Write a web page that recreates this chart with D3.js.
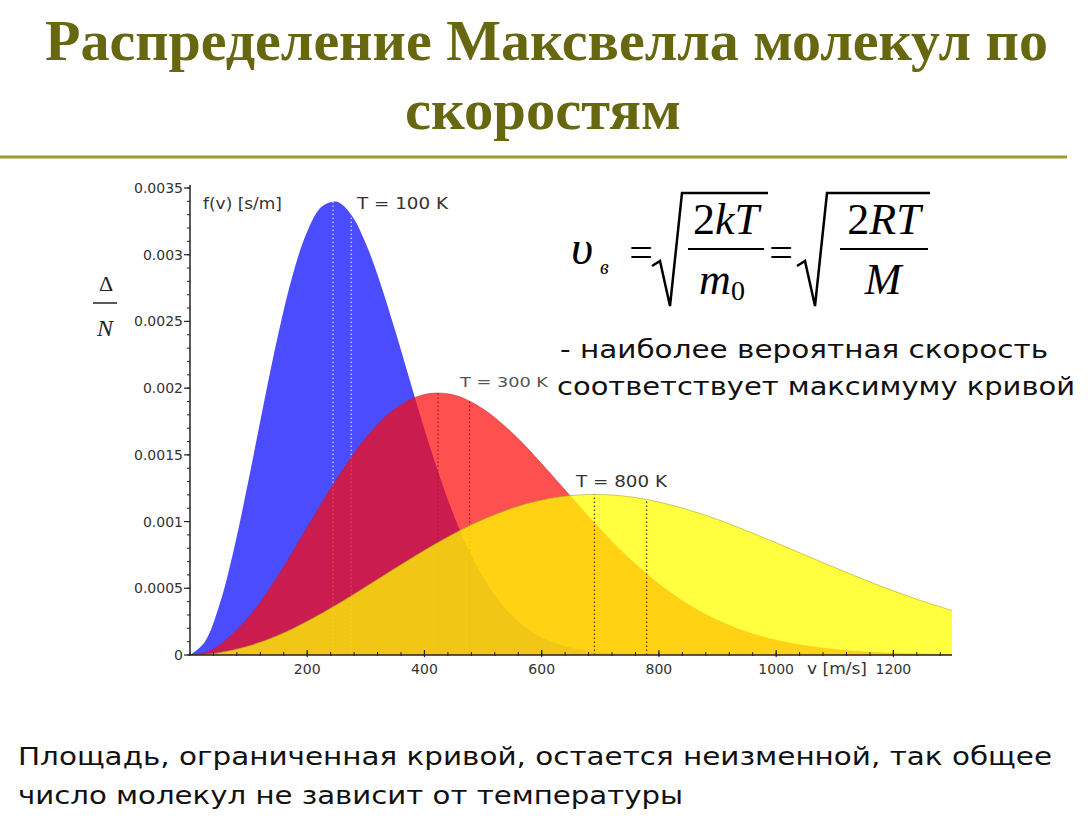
<!DOCTYPE html>
<html><head><meta charset="utf-8">
<script src="https://cdn.jsdelivr.net/npm/d3@7"></script>
<style>
html,body{margin:0;padding:0;background:#fff;}
svg{display:block;}
</style>
</head><body>
<svg id="chart" width="1090" height="840"></svg>
<script>
// ---------- data ----------
const speeds100 = [0,25,50,75,100,125,150,175,200,225,250,275,300,325,350,375,400,425,450,475,500,525,550,575,600,625,650,675,700,725,750,775,800,825,850];
const f100 = [0,0.0000961,0.000372,0.000795,0.001313,0.001867,0.002395,0.002845,0.003174,0.003361,0.003398,0.003299,0.003083,0.002783,0.002432,0.002059,0.001692,0.001351,0.001048,0.000792,0.000583,0.000418,0.000292,0.000199,0.000132,0.0000858,0.000054,0.0000336,0.000020,0.000012,0.000007,0.0000039,0.000002,0.000001,0];
const speeds = [0,25,50,100,150,200,250,300,350,400,450,500,550,600,650,700,750,800,850,900,950,1000,1050,1100,1150,1200,1250,1300];
const f300 = [0,0.0000186,0.0000737,0.000283,0.000593,0.000956,0.001317,0.001626,0.001845,0.001953,0.001949,0.001844,0.001663,0.001434,0.001186,0.000943,0.000721,0.000532,0.000378,0.000260,0.000172,0.000111,0.000069,0.000041,0.000024,0.000014,0.000007,0.000004];
const f800 = [0,0.0000043,0.0000171,0.0000672,0.000147,0.000253,0.000376,0.000512,0.000650,0.000785,0.000909,0.001016,0.001101,0.001161,0.001195,0.001203,0.001186,0.001146,0.001088,0.001016,0.000931,0.000841,0.000748,0.000655,0.000565,0.000481,0.000403,0.000334];
const seriesNames = ["T = 100 K","T = 300 K","T = 800 K"];
// most probable and mean speeds (dotted lines) and the curve height there
const markSpeeds100 = [244,275], markValues100 = [0.00340,0.00330];
const markSpeeds300 = [423,477], markValues300 = [0.001965,0.001903];
const markSpeeds800 = [690,779], markValues800 = [0.001203,0.001165];
const xTicks = [200,400,600,800,1000,1200];
const xMinorTicks = d3.range(0,1301,40);
const yTicks = [0,0.0005,0.001,0.0015,0.002,0.0025,0.003,0.0035];
const yTickLabels = ["0","0.0005","0.001","0.0015","0.002","0.0025","0.003","0.0035"];
const yMinorTicks = d3.range(0,36).map(i=>i*0.0001);

// ---------- drawing ----------
const svg = d3.select("#chart");
const x = d3.scaleLinear().domain([0,1300]).range([190,952]);
const y = d3.scaleLinear().domain([0,0.0035]).range([655,188]);

// title
const titleColor = "#67670f";
svg.append("text").attr("x",45).attr("y",60)
  .attr("font-family","'Liberation Serif', 'DejaVu Serif', serif").attr("font-weight","bold")
  .attr("font-size",58).attr("fill",titleColor)
  .attr("textLength",1003).attr("lengthAdjust","spacingAndGlyphs")
  .text("Распределение Максвелла молекул по");
svg.append("text").attr("x",405).attr("y",129)
  .attr("font-family","'Liberation Serif', 'DejaVu Serif', serif").attr("font-weight","bold")
  .attr("font-size",58).attr("fill",titleColor)
  .attr("textLength",276).attr("lengthAdjust","spacingAndGlyphs")
  .text("скоростям");
svg.append("line").attr("x1",0).attr("x2",1067).attr("y1",157).attr("y2",157)
  .attr("stroke","#9c9c2c").attr("stroke-width",3);

// areas
const curve = d3.curveCatmullRom.alpha(0.5);
const area = (sp, vals) => d3.area().curve(curve)
  .x((d,i)=>x(sp[i])).y0(y(0)).y1((d,i)=>y(Math.max(0,vals[i])))(vals);
const line = (sp, vals) => d3.line().curve(curve)
  .x((d,i)=>x(sp[i])).y((d,i)=>y(Math.max(0,vals[i])))(vals);

const plot = svg.append("g");
plot.append("clipPath").attr("id","clip").append("rect")
  .attr("x",x(0)).attr("y",y(0.0036)).attr("width",x(1300)-x(0)).attr("height",y(0)-y(0.0036));
const pg = plot.append("g").attr("clip-path","url(#clip)");

function marks(sp, vals, color){
  pg.selectAll(null).data(sp).enter().append("line")
    .attr("x1",d=>x(d)).attr("x2",d=>x(d))
    .attr("y1",y(0)).attr("y2",(d,i)=>y(vals[i]))
    .attr("stroke",color).attr("stroke-width",1.2).attr("stroke-dasharray","1.5,2.5");
}

pg.append("path").attr("d",area(speeds100,f100)).attr("fill","#4c4cff");
marks(markSpeeds100, markValues100, "#dcdcff");
pg.append("path").attr("d",area(speeds,f300)).attr("fill","rgb(255,8,8)").attr("fill-opacity",0.71);
pg.append("path").attr("d",line(speeds,f300)).attr("fill","none").attr("stroke","#b02030").attr("stroke-opacity",0.45).attr("stroke-width",1);
marks(markSpeeds300, markValues300, "#a01818");
pg.append("path").attr("d",area(speeds,f800)).attr("fill","rgb(255,255,0)").attr("fill-opacity",0.75);
pg.append("path").attr("d",line(speeds,f800)).attr("fill","none").attr("stroke","#a8a820").attr("stroke-opacity",0.6).attr("stroke-width",1);
marks(markSpeeds800, markValues800, "#4a3c00");

// axes
const axisColor = "#222";
const tickFont = "'DejaVu Sans', Verdana, sans-serif";
svg.append("line").attr("x1",x(0)).attr("x2",x(0)).attr("y1",y(0.0035)-3).attr("y2",y(0))
  .attr("stroke",axisColor).attr("stroke-width",1.5);
svg.append("line").attr("x1",x(0)).attr("x2",x(1300)).attr("y1",y(0)).attr("y2",y(0))
  .attr("stroke",axisColor).attr("stroke-width",1.5);
svg.selectAll(null).data(yMinorTicks).enter().append("line")
  .attr("x1",x(0)-3).attr("x2",x(0)).attr("y1",d=>y(d)).attr("y2",d=>y(d))
  .attr("stroke",axisColor).attr("stroke-width",1);
svg.selectAll(null).data(yTicks).enter().append("line")
  .attr("x1",x(0)-6).attr("x2",x(0)).attr("y1",d=>y(d)).attr("y2",d=>y(d))
  .attr("stroke",axisColor).attr("stroke-width",1.2);
svg.selectAll(null).data(yTicks).enter().append("text")
  .attr("x",x(0)-7).attr("y",d=>y(d)+5).attr("text-anchor","end")
  .attr("font-family",tickFont).attr("font-size",14).attr("fill","#333")
  .text((d,i)=>yTickLabels[i]);
svg.selectAll(null).data(xMinorTicks).enter().append("line")
  .attr("x1",d=>x(d)).attr("x2",d=>x(d)).attr("y1",y(0)-3).attr("y2",y(0)+1)
  .attr("stroke",axisColor).attr("stroke-width",1);
svg.selectAll(null).data(xTicks).enter().append("line")
  .attr("x1",d=>x(d)).attr("x2",d=>x(d)).attr("y1",y(0)-5).attr("y2",y(0)+2)
  .attr("stroke",axisColor).attr("stroke-width",1.2);
svg.selectAll(null).data(xTicks).enter().append("text")
  .attr("x",d=>x(d)).attr("y",y(0)+19).attr("text-anchor","middle")
  .attr("font-family",tickFont).attr("font-size",14).attr("fill","#333")
  .text(d=>d);

// axis titles and series labels
const lab = (tx,ty,s,fs,col,len)=>svg.append("text").attr("x",tx).attr("y",ty)
  .attr("font-family",tickFont).attr("font-size",fs).attr("fill",col)
  .attr("textLength",len).attr("lengthAdjust","spacingAndGlyphs").text(s);
lab(203,209,"f(v) [s/m]",15,"#333",79);
lab(807,674,"v [m/s]",16,"#333",60);
lab(357,209,seriesNames[0],15,"#333",91);
lab(460,387,seriesNames[1],14,"#555",88);
lab(576,487,seriesNames[2],15,"#333",91);

// y-label fraction
svg.append("text").attr("x",106).attr("y",291).attr("text-anchor","middle")
  .attr("font-family","'Liberation Serif', serif").attr("font-size",22).attr("fill","#222").text("Δ");
svg.append("line").attr("x1",93).attr("x2",117).attr("y1",303).attr("y2",303).attr("stroke","#222").attr("stroke-width",1.5);
svg.append("text").attr("x",105).attr("y",336).attr("text-anchor","middle")
  .attr("font-family","'Liberation Serif', serif").attr("font-style","italic").attr("font-size",24).attr("fill","#222").text("N");

// formula
const serif = "'Liberation Serif', 'DejaVu Serif', serif";
const ft = (tx,ty,s,fs,it,anchor)=>svg.append("text").attr("x",tx).attr("y",ty)
  .attr("font-family",serif).attr("font-size",fs).attr("font-style",it?"italic":"normal")
  .attr("text-anchor",anchor||"start").attr("fill","#000").text(s);
ft(571,264,"υ",48,true);
ft(600,274,"в",20,true);
ft(641,266,"=",42,false,"middle");
const rad = (x0,x1)=>svg.append("path")
  .attr("d",`M${x0},266 L${x0+8},261 L${x0+18},306 L${x0+30},193 L${x1},193`)
  .attr("fill","none").attr("stroke","#000").attr("stroke-width",2.5).attr("stroke-linejoin","miter");
rad(652,768);
svg.append("line").attr("x1",688).attr("x2",764).attr("y1",249).attr("y2",249).attr("stroke","#000").attr("stroke-width",2.2);
const num1 = svg.append("text").attr("x",726).attr("y",234).attr("text-anchor","middle")
  .attr("font-family",serif).attr("font-size",44);
num1.append("tspan").text("2");
num1.append("tspan").attr("font-style","italic").text("kT");
const den1 = svg.append("text").attr("x",722).attr("y",294).attr("text-anchor","middle")
  .attr("font-family",serif).attr("font-size",44);
den1.append("tspan").attr("font-style","italic").text("m");
den1.append("tspan").attr("font-size",28).attr("dy",6).text("0");
ft(781,266,"=",42,false,"middle");
rad(797,930);
svg.append("line").attr("x1",840).attr("x2",928).attr("y1",249).attr("y2",249).attr("stroke","#000").attr("stroke-width",2.2);
const num2 = svg.append("text").attr("x",884).attr("y",234).attr("text-anchor","middle")
  .attr("font-family",serif).attr("font-size",44);
num2.append("tspan").text("2");
num2.append("tspan").attr("font-style","italic").text("RT");
ft(883,294,"M",44,true,"middle");

// explanatory texts
const sans = "'DejaVu Sans', Verdana, sans-serif";
const tx = (x0,y0,s,len)=>svg.append("text").attr("x",x0).attr("y",y0)
  .attr("font-family",sans).attr("font-size",25).attr("fill","#111")
  .attr("textLength",len).attr("lengthAdjust","spacingAndGlyphs").text(s);
tx(560,358,"- наиболее вероятная скорость",488);
tx(557,395,"соответствует максимуму кривой",518);
tx(18,765,"Площадь, ограниченная кривой, остается неизменной, так общее",1034);
tx(18,804,"число молекул не зависит от температуры",665);
</script>
</body></html>
